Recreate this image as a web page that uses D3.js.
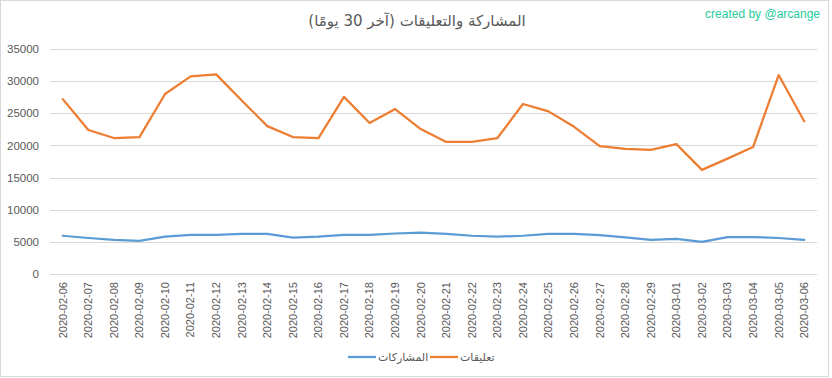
<!DOCTYPE html>
<html lang="ar">
<head>
<meta charset="utf-8">
<title>المشاركة والتعليقات</title>
<script src="https://d3js.org/d3.v7.min.js"></script>
<style>
  body { margin: 0; background: #fff; }
  svg text { font-family: "Liberation Sans", "DejaVu Sans", Arial, sans-serif; fill: #595959; }
</style>
</head>
<body>
<div id="chart"></div>
<script>
  // dates (category axis)
  var dates = ["2020-02-06","2020-02-07","2020-02-08","2020-02-09","2020-02-10","2020-02-11",
    "2020-02-12","2020-02-13","2020-02-14","2020-02-15","2020-02-16","2020-02-17","2020-02-18",
    "2020-02-19","2020-02-20","2020-02-21","2020-02-22","2020-02-23","2020-02-24","2020-02-25",
    "2020-02-26","2020-02-27","2020-02-28","2020-02-29","2020-03-01","2020-03-02","2020-03-03",
    "2020-03-04","2020-03-05","2020-03-06"];

  // posts (blue)
  var posts = [5950, 5600, 5300, 5150, 5800, 6100, 6100, 6250, 6250, 5650, 5800, 6100, 6100,
    6300, 6450, 6250, 5950, 5800, 5950, 6250, 6250, 6050, 5700, 5300, 5450, 5000, 5750,
    5750, 5600, 5300];

  // comments (orange)
  var comments = [27200, 22400, 21150, 21300, 28000, 30750, 31050, 27000, 23000, 21300, 21150,
    27550, 23500, 25650, 22550, 20550, 20550, 21150, 26450, 25300, 22900, 19900, 19450,
    19300, 20200, 16200, 17950, 19750, 30950, 23750];

  var yTicks = [0, 5000, 10000, 15000, 20000, 25000, 30000, 35000];
  var seriesNames = ["المشاركات", "تعليقات"];
  var colors = ["#5b9bd5", "#ed7d31"];

  var W = 832, H = 378;
  var margin = { top: 49, right: 15, bottom: 104, left: 50 };
  var width = 817 - margin.left, height = 274 - margin.top;

  var svg = d3.select("#chart").append("svg")
    .attr("width", W).attr("height", H);

  // outer frame
  svg.append("rect")
    .attr("x", 0.5).attr("y", 0.5)
    .attr("width", 828).attr("height", 376)
    .attr("fill", "#fff").attr("stroke", "#d9d9d9");

  // title
  svg.append("text")
    .attr("x", 417).attr("y", 26)
    .attr("text-anchor", "middle")
    .style("font-size", "15px")
    .style("font-family", "'DejaVu Sans', sans-serif")
    .text("المشاركة والتعليقات (آخر 30 يومًا)");

  svg.append("text")
    .attr("x", 820).attr("y", 18)
    .attr("text-anchor", "end")
    .style("font-size", "12px")
    .style("fill", "#1fcc9b")
    .text("created by @arcange");

  var g = svg.append("g")
    .attr("transform", "translate(" + margin.left + "," + margin.top + ")");

  var x = d3.scaleBand().domain(dates).range([0, width]);
  var y = d3.scaleLinear().domain([0, 35000]).range([height, 0]);

  // gridlines
  g.append("g")
    .selectAll("line")
    .data(yTicks)
    .enter().append("line")
    .attr("x1", 0).attr("x2", width)
    .attr("y1", function (d) { return Math.round(y(d)) + 0.5; })
    .attr("y2", function (d) { return Math.round(y(d)) + 0.5; })
    .attr("stroke", "#d9d9d9");

  // y axis labels
  var yAxis = g.append("g")
    .call(d3.axisLeft(y).tickValues(yTicks).tickSize(0).tickPadding(11).tickFormat(d3.format("d")));
  yAxis.select(".domain").remove();
  yAxis.selectAll("text").style("font-size", "11.5px").attr("fill", "#595959");

  // x axis labels
  var xAxis = g.append("g")
    .attr("transform", "translate(0," + height + ")")
    .call(d3.axisBottom(x).tickSize(0).tickPadding(0));
  xAxis.select(".domain").remove();
  xAxis.selectAll("text")
    .attr("transform", "rotate(-90)")
    .attr("x", -8).attr("y", 0).attr("dy", "0.35em")
    .attr("text-anchor", "end")
    .style("font-size", "11px")
    .attr("fill", "#595959");

  var line = d3.line()
    .x(function (d, i) { return x(dates[i]) + x.bandwidth() / 2; })
    .y(function (d) { return y(d); });

  [posts, comments].forEach(function (s, i) {
    g.append("path")
      .datum(s)
      .attr("fill", "none")
      .attr("stroke", colors[i])
      .attr("stroke-width", 2.25)
      .attr("stroke-linejoin", "round")
      .attr("stroke-linecap", "round")
      .attr("d", line);
  });

  // legend
  var legendX = [348, 430];
  seriesNames.forEach(function (name, i) {
    var lg = svg.append("g").attr("transform", "translate(" + legendX[i] + ",357)");
    lg.append("line")
      .attr("x1", 0).attr("x2", 28).attr("y1", 0).attr("y2", 0)
      .attr("stroke", colors[i]).attr("stroke-width", 2.25);
    lg.append("text")
      .attr("x", 30).attr("y", 4)
      .style("font-size", "11px")
      .style("font-family", "'DejaVu Sans', sans-serif")
      .text(name);
  });
</script>
</body>
</html>
